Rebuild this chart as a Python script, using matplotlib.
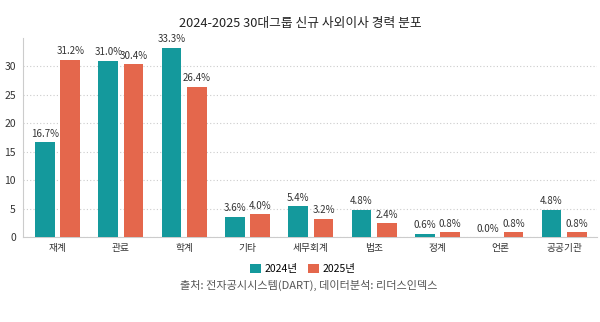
import matplotlib
matplotlib.use('Agg')
import matplotlib.pyplot as plt
import numpy as np

plt.rcParams['font.family'] = ['Noto Sans CJK KR', 'DejaVu Sans']

categories = ['재계', '관료', '학계', '기타', '세무회계', '법조', '정계', '언론', '공공기관']
values_2024 = [16.7, 31.0, 33.3, 3.6, 5.4, 4.8, 0.6, 0.0, 4.8]
values_2025 = [31.2, 30.4, 26.4, 4.0, 3.2, 2.4, 0.8, 0.8, 0.8]
yticks = [0, 5, 10, 15, 20, 25, 30]

TEAL = '#14999c'
ORANGE = '#e4674c'

fig = plt.figure(figsize=(6, 3.22), dpi=100)
ax = fig.add_axes([0.038, 0.264, 0.957, 0.618])

x = np.arange(len(categories))
width = 0.31
off = 0.2
b1 = ax.bar(x - off, values_2024, width, color=TEAL, label='2024년', zorder=3)
b2 = ax.bar(x + off, values_2025, width, color=ORANGE, label='2025년', zorder=3)

for bars, vals in ((b1, values_2024), (b2, values_2025)):
    for rect, v in zip(bars, vals):
        ax.text(rect.get_x() + rect.get_width() / 2, v + 0.6, f'{v:.1f}%',
                ha='center', va='bottom', fontsize=7, color='#333333')

ax.set_xlim(-0.55, 8.52)
ax.set_ylim(0, 35)
ax.set_yticks(yticks)
ax.set_xticks(x)
ax.set_xticklabels(categories, fontsize=7, color='#333333')
ax.tick_params(axis='y', labelsize=7.5, colors='#333333', length=0, pad=5)
ax.tick_params(axis='x', length=0, pad=4)
ax.yaxis.grid(True, linestyle=(0, (1, 2)), color='#cccccc', linewidth=0.8, zorder=0)
for s in ('top', 'right'):
    ax.spines[s].set_visible(False)
ax.spines['left'].set_color('#cccccc')
ax.spines['bottom'].set_color('#cccccc')

fig.suptitle('2024-2025 30대그룹 신규 사외이사 경력 분포', x=0.5, y=0.928,
             va='center', fontsize=9.2, color='#222222')
fig.legend(loc='center', bbox_to_anchor=(0.505, 0.165), ncol=2, frameon=False,
           fontsize=7.5, handlelength=1.0, handleheight=1.0, columnspacing=1.0,
           handletextpad=0.4)
fig.text(0.515, 0.115, '출처: 전자공시시스템(DART), 데이터분석: 리더스인덱스',
         ha='center', va='center', fontsize=8, color='#555555')

fig.savefig('out.png', dpi=100)
